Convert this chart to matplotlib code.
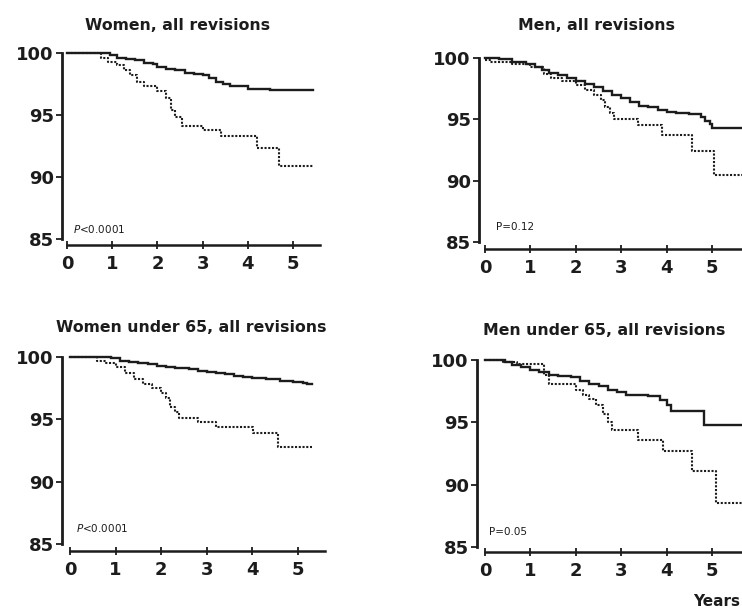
import matplotlib
matplotlib.use('Agg')
import matplotlib.pyplot as plt

plt.rcParams['font.family'] = ['DejaVu Sans']
plt.rcParams['mathtext.fontset'] = 'custom'
plt.rcParams['mathtext.it'] = 'DejaVu Sans:italic'

# ---- data (years, % without revision) ----
titles = ['Women, all revisions', 'Men, all revisions',
          'Women under 65, all revisions', 'Men under 65, all revisions']
pvals = [r'$\it{P}$<0.0001', 'P=0.12', r'$\it{P}$<0.0001', 'P=0.05']

tl_solid_t = [0, 0.95, 1.1, 1.3, 1.5, 1.7, 1.9, 2.0, 2.2, 2.4, 2.6, 2.8, 3.0, 3.15, 3.3, 3.45, 3.6, 4.0, 4.5, 5.45]
tl_solid_s = [100, 99.8, 99.6, 99.5, 99.4, 99.2, 99.1, 98.9, 98.7, 98.6, 98.4, 98.3, 98.2, 98.0, 97.7, 97.5, 97.3, 97.1, 97.05, 97.0]
tl_dot_t = [0, 0.75, 0.9, 1.1, 1.25, 1.4, 1.55, 1.7, 2.0, 2.2, 2.3, 2.4, 2.55, 3.0, 3.4, 4.2, 4.68, 5.45]
tl_dot_s = [100, 99.6, 99.3, 99.0, 98.6, 98.2, 97.7, 97.3, 96.9, 96.4, 95.4, 94.8, 94.1, 93.8, 93.3, 92.3, 90.9, 90.9]

tr_solid_t = [0, 0.3, 0.6, 0.9, 1.1, 1.25, 1.4, 1.6, 1.8, 2.0, 2.2, 2.4, 2.6, 2.8, 3.0, 3.2, 3.4,
              3.6, 3.8, 4.0, 4.2, 4.5, 4.75, 4.85, 4.95, 5.0, 5.65]
tr_solid_s = [100, 99.9, 99.7, 99.5, 99.3, 99.0, 98.8, 98.6, 98.4, 98.1, 97.9, 97.6, 97.3, 97.0, 96.7,
              96.4, 96.1, 96.0, 95.8, 95.6, 95.5, 95.4, 95.2, 94.9, 94.6, 94.3, 94.3]
tr_dot_t = [0, 0.1, 0.6, 1.0, 1.3, 1.45, 1.7, 2.0, 2.2, 2.4, 2.55, 2.65, 2.75, 2.85, 3.36, 3.9, 4.55, 5.05, 5.65]
tr_dot_s = [99.8, 99.7, 99.5, 99.3, 98.7, 98.4, 98.1, 97.8, 97.4, 97.0, 96.6, 96.0, 95.5, 95.0, 94.5, 93.7, 92.4, 90.5, 90.5]

bl_solid_t = [0, 0.9, 1.1, 1.3, 1.5, 1.7, 1.9, 2.1, 2.3, 2.6, 2.8, 3.0, 3.2, 3.4, 3.6, 3.8, 4.0,
              4.3, 4.6, 4.9, 5.1, 5.2, 5.3]
bl_solid_s = [100, 99.9, 99.7, 99.6, 99.5, 99.4, 99.3, 99.2, 99.1, 99.0, 98.9, 98.8, 98.7, 98.6, 98.5,
              98.4, 98.3, 98.2, 98.1, 98.0, 97.9, 97.8, 97.8]
bl_dot_t = [0, 0.6, 0.8, 1.0, 1.2, 1.4, 1.6, 1.8, 2.0, 2.1, 2.2, 2.3, 2.4, 2.8, 3.2, 4.02, 4.57, 5.3]
bl_dot_s = [100, 99.7, 99.5, 99.2, 98.7, 98.2, 97.8, 97.5, 97.1, 96.7, 96.0, 95.6, 95.1, 94.8, 94.4, 93.9, 92.8, 92.8]

br_solid_t = [0, 0.45, 0.6, 0.8, 1.0, 1.2, 1.4, 1.6, 1.9, 2.1, 2.3, 2.5, 2.7, 2.9, 3.1, 3.6, 3.85,
              4.0, 4.1, 4.82, 5.65]
br_solid_s = [100, 99.8, 99.6, 99.4, 99.2, 99.0, 98.8, 98.7, 98.6, 98.3, 98.1, 97.9, 97.6, 97.4, 97.2,
              97.1, 96.8, 96.4, 95.9, 94.8, 94.8]
br_dot_t = [0, 0.4, 0.7, 1.3, 1.4, 2.0, 2.15, 2.3, 2.45, 2.6, 2.7, 2.8, 3.37, 3.92, 4.57, 5.08, 5.65]
br_dot_s = [100, 99.8, 99.7, 98.8, 98.1, 97.6, 97.2, 96.9, 96.4, 95.7, 95.0, 94.4, 93.6, 92.7, 91.1, 88.5, 88.5]

curves = [(tl_solid_t, tl_solid_s, tl_dot_t, tl_dot_s),
          (tr_solid_t, tr_solid_s, tr_dot_t, tr_dot_s),
          (bl_solid_t, bl_solid_s, bl_dot_t, bl_dot_s),
          (br_solid_t, br_solid_s, br_dot_t, br_dot_s)]

yticks = [85, 90, 95, 100]
xticks = [0, 1, 2, 3, 4, 5]

# ---- layout in pixels of the 742x611 picture ----
W, H = 742, 611
# x0, x5, y100, y85, y-axis x, x-axis y, x-axis end
geom = [(67, 293, 53, 239, 62, 245, 320),
        (485, 712, 58, 242, 479, 249, 742),
        (70, 298, 357, 544, 62, 551, 325),
        (485, 712, 360, 547, 477, 552, 742)]
title_pos = [(178, 25), (597, 25), (191, 328), (604, 330)]
p_pos = [(73, 229), (496, 227), (76, 528), (489, 532)]

ink = '#1c1c1c'
fig = plt.figure(figsize=(W / 100, H / 100), dpi=100)

for i in range(4):
    x0, x5, y100, y85, yax, xax, xend = geom[i]
    xs = (x5 - x0) / 5.0
    ys = (y85 - y100) / 15.0
    top = y100 - 5
    ax = fig.add_axes([yax / W, 1 - xax / H, (xend - yax) / W, (xax - top) / H])
    ax.set_xlim((yax - x0) / xs, (xend - x0) / xs)
    ax.set_ylim(85 - (xax - y85) / ys, 100 + 5 / ys)

    st, ss, dt, ds = curves[i]
    ax.step(st, ss, where='post', color=ink, lw=1.7, solid_joinstyle='miter')
    ax.step(dt, ds, where='post', color=ink, lw=1.5, linestyle=(0, (1.0, 0.8)))

    for s in ['top', 'right']:
        ax.spines[s].set_visible(False)
    ax.spines['left'].set_bounds(85, 100)
    ax.spines['left'].set_linewidth(2.0)
    ax.spines['bottom'].set_bounds(0, (xend - x0) / xs)
    ax.spines['bottom'].set_linewidth(1.8)
    ax.spines['left'].set_color(ink)
    ax.spines['bottom'].set_color(ink)

    ax.set_yticks(yticks)
    ax.set_xticks(xticks)
    ax.tick_params(axis='y', direction='out', length=4, width=1.3, pad=2,
                   labelsize=13, colors=ink)
    ax.tick_params(axis='x', direction='inout', length=6, width=1.3, pad=4,
                   labelsize=13, colors=ink)
    for lab in ax.get_xticklabels() + ax.get_yticklabels():
        lab.set_fontweight('bold')

    tx, ty = title_pos[i]
    fig.text(tx / W, 1 - ty / H, titles[i], ha='center', va='center',
             fontsize=11.3, fontweight='bold', color=ink)
    px, py = p_pos[i]
    fig.text(px / W, 1 - py / H, pvals[i], ha='left', va='center',
             fontsize=7.5, color=ink)

fig.text(693 / W, 1 - 601 / H, 'Years', ha='left', va='center',
         fontsize=11, fontweight='bold', color=ink)

fig.savefig('out.png', dpi=100)
